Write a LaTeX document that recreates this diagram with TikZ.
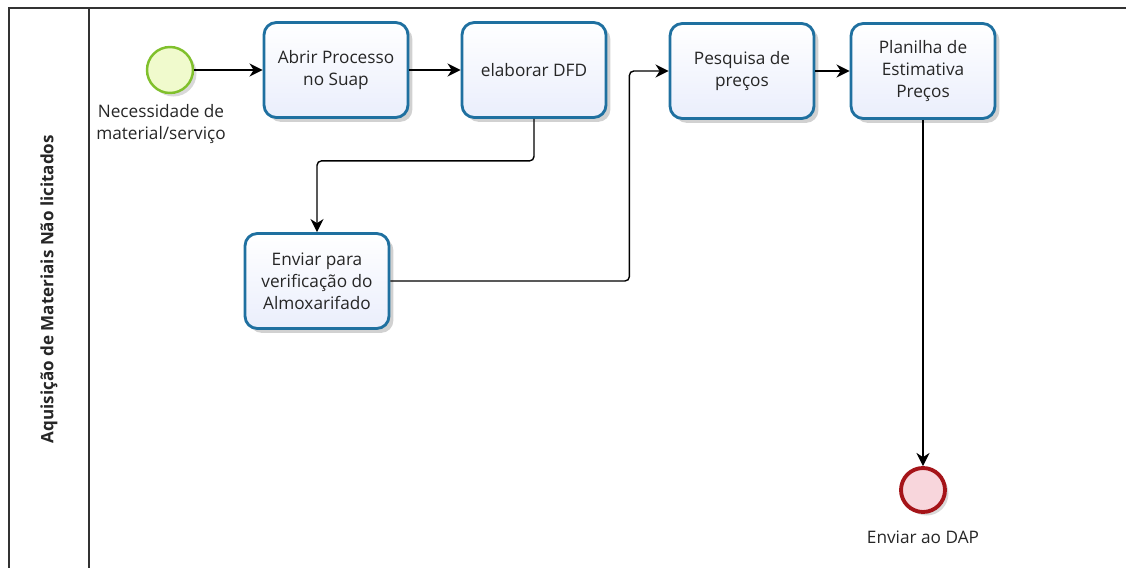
\documentclass[tikz,border=0pt]{standalone}
\usepackage{fontspec}
\setmainfont{Open Sans}
\usepackage{tikz}
\usetikzlibrary{shapes,arrows.meta,positioning,calc,shadows}

\definecolor{taskline}{RGB}{31,112,160}
\definecolor{taskfill}{RGB}{234,238,252}
\definecolor{startline}{RGB}{128,192,44}
\definecolor{startfill}{RGB}{240,250,205}
\definecolor{endline}{RGB}{165,20,25}
\definecolor{endfill}{RGB}{248,214,220}
\definecolor{poolline}{RGB}{50,50,50}

\begin{document}
\begin{tikzpicture}[
    x=0.02cm, y=-0.02cm,
    every node/.style={font=\fontsize{9.8}{12.6}\selectfont, text=black!85},
    task/.style={rectangle, draw=taskline, line width=1.6pt, rounded corners=7pt,
        top color=white, bottom color=taskfill, align=center,
        minimum width=2.88cm, minimum height=1.9cm, inner sep=0pt,
        drop shadow={shadow xshift=2.5pt, shadow yshift=-2.5pt, opacity=0.18, fill=black}},
    startev/.style={circle, draw=startline, line width=1.4pt, fill=startfill,
        minimum size=0.92cm, inner sep=0pt,
        drop shadow={shadow xshift=2pt, shadow yshift=-2pt, opacity=0.15, fill=black}},
    endev/.style={circle, draw=endline, line width=2.2pt, fill=endfill,
        minimum size=0.88cm, inner sep=0pt,
        drop shadow={shadow xshift=2pt, shadow yshift=-2pt, opacity=0.15, fill=black}},
    flow/.style={draw, line width=0.8pt, rounded corners=2.5pt, -{Stealth[length=7.5pt, width=7.5pt]}},
    pool/.style={draw=poolline, line width=1.1pt}
]
\useasboundingbox (0,0) rectangle (1126,568);

% pool and lane
\draw[pool] (1126,8) -- (9,8) -- (9,568);
\draw[pool] (89,8) -- (89,568);
\node[rotate=90, font=\fontsize{9.7}{11}\selectfont\bfseries] (lane) at (49,289) {Aquisição de Materiais Não licitados};

% events and tasks
\node[startev] (start) at (170,70) {};
\node[align=center, anchor=north] (startlbl) at (161,98) {Necessidade de\\material/serviço};
\node[task] (abrir) at (336,70) {Abrir Processo\\no Suap};
\node[task] (dfd) at (534,70) {elaborar DFD};
\node[task] (alm) at (317,281) {Enviar para\\verificação do\\Almoxarifado};
\node[task] (pesq) at (742,71) {Pesquisa de\\preços};
\node[task] (plan) at (923,71) {Planilha de\\Estimativa\\Preços};
\node[endev] (fim) at (923,490) {};
\node[anchor=north] (fimlbl) at (923,525) {Enviar ao DAP};

% sequence flows
\draw[flow] (start) -- (abrir);
\draw[flow] (abrir) -- (dfd);
\draw[flow] (dfd.south) -- ++(0,42) -| (alm.north);
\draw[flow] (alm.east) -- ++(239,0) |- (pesq.west);
\draw[flow] (pesq) -- (plan);
\draw[flow] (plan) -- (fim);

\end{tikzpicture}
\end{document}
